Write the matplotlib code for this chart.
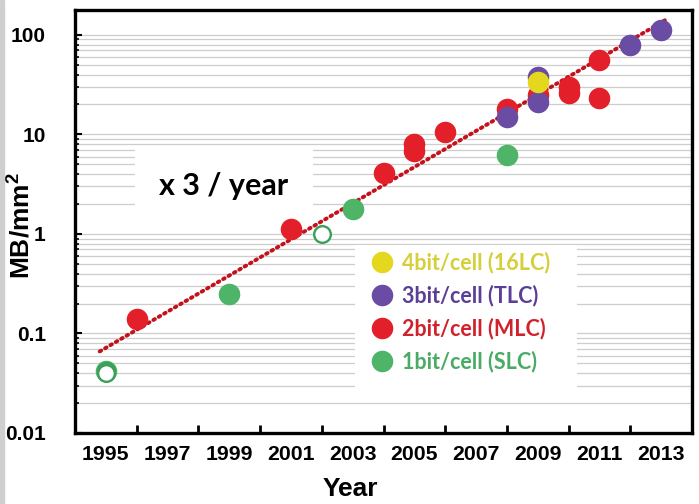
import matplotlib
matplotlib.use("Agg")
import matplotlib.pyplot as plt
from matplotlib.lines import Line2D
from matplotlib.patches import Rectangle
from matplotlib.ticker import FixedLocator, LogLocator, NullFormatter

plt.rcParams["mathtext.fontset"] = "custom"
plt.rcParams["mathtext.bf"] = "Liberation Sans:bold"
plt.rcParams["mathtext.rm"] = "Liberation Sans:bold"

# data
slc_years = [1995, 1999, 2003, 2008]
slc_vals = [0.042, 0.25, 1.8, 6.2]
slc_open_years = [1995, 1995, 2002]
slc_open_vals = [0.042, 0.040, 1.0]
mlc_years = [1996, 2001, 2004, 2005, 2005, 2006, 2008, 2009, 2010, 2010, 2011, 2011]
mlc_vals = [0.14, 1.12, 4.1, 8.0, 6.8, 10.5, 18, 25, 30, 26, 56, 23]
tlc_years = [2008, 2009, 2009, 2012, 2013]
tlc_vals = [15, 21, 38, 79, 112]
qlc_years = [2009]
qlc_vals = [34]
trend_years = [1994.8, 2013.2]
trend_vals = [0.066, 145]

labels = ["4bit/cell (16LC)", "3bit/cell (TLC)", "2bit/cell (MLC)", "1bit/cell (SLC)"]
colors = ["#e4d81e", "#6a4ca4", "#e3202a", "#4db468"]
text_colors = ["#d6cf3a", "#5b3f97", "#d1222c", "#4aab66"]

tick_years = [1995, 1997, 1999, 2001, 2003, 2005, 2007, 2009, 2011, 2013]
mark_years = [1996, 1998, 2000, 2002, 2004, 2006, 2008, 2010, 2012]

bold = dict(family="Liberation Sans", weight="bold")

fig = plt.figure(figsize=(6.99, 5.04), dpi=100)
fig.patches.append(Rectangle((0, 0), 4 / 699, 1, transform=fig.transFigure,
                             color="#cfcfcf", zorder=0))
ax = fig.add_axes([75 / 699, 71 / 504, 617 / 699, 423 / 504])

ax.set_yscale("log")
ax.set_xlim(1994, 2014)
ax.set_ylim(0.01, 178)

# light grey grid on every minor decade step
ax.yaxis.set_minor_locator(LogLocator(base=10, subs=range(2, 10)))
ax.yaxis.set_minor_formatter(NullFormatter())
ax.grid(True, axis="y", which="both", color="#cdcdcd", lw=0.9)

# white boxes behind the annotation and the legend (above the grid)
ax.add_patch(Rectangle((0.097, 0.527), 0.289, 0.149, transform=ax.transAxes,
                       facecolor="white", edgecolor="none", zorder=1.8))
ax.add_patch(Rectangle((0.454, 0.09), 0.36, 0.355, transform=ax.transAxes,
                       facecolor="white", edgecolor="none", zorder=1.8))

ax.plot(trend_years, trend_vals, color="#c3121c", lw=2.8,
        linestyle=(0, (0.45, 1.15)), dash_capstyle="round", zorder=2)

ms = 14.5
ax.plot(slc_years, slc_vals, "o", ms=ms, color=colors[3], mec=colors[3], zorder=3)
ax.plot(slc_open_years, slc_open_vals, "o", ms=12, mfc="white", mec="#3a9f58",
        mew=1.7, zorder=3)
ax.plot(mlc_years, mlc_vals, "o", ms=ms, color=colors[2], zorder=4)
ax.plot(tlc_years, tlc_vals, "o", ms=ms, color=colors[1], zorder=5)
ax.plot(qlc_years, qlc_vals, "o", ms=ms, color=colors[0], zorder=6)

ax.text(0.241, 0.584, "x 3 / year", transform=ax.transAxes, ha="center", va="center",
        fontsize=22, family="Lato", weight="bold", zorder=3)

handles = [Line2D([], [], ls="none", marker="o", ms=ms, color=c) for c in colors]
leg = ax.legend(handles, labels, loc="upper left", bbox_to_anchor=(0.48, 0.428),
                frameon=False, borderpad=0, borderaxespad=0, handlelength=1.0,
                handletextpad=0.44, labelspacing=0.52, labelcolor=text_colors,
                prop=dict(family="Lato", weight="bold", size=15.5))
leg.set_zorder(7)

# ticks: marks on even years, labels on odd years
ax.xaxis.set_major_locator(FixedLocator(mark_years))
ax.xaxis.set_major_formatter(NullFormatter())
ax.xaxis.set_minor_locator(FixedLocator(tick_years))
ax.set_xticklabels([str(y) for y in tick_years], minor=True)
ax.tick_params(axis="x", which="major", direction="in", length=6, width=2)
ax.tick_params(axis="x", which="minor", length=0, pad=9)
ax.tick_params(axis="y", which="major", direction="in", length=5, width=1.5, pad=21)
ax.tick_params(axis="y", which="minor", direction="in", length=3, width=1.2)
ax.set_yticks([0.01, 0.1, 1, 10, 100])
ax.set_yticklabels(["0.01", "0.1", "1", "10", "100"])
for t in ax.get_xticklabels(minor=True):
    t.set_fontproperties(dict(bold, size=15.3))
for t in ax.get_yticklabels():
    t.set_fontproperties(dict(bold, size=15))
for s in ax.spines.values():
    s.set_linewidth(2.4)
    s.set_zorder(8)

ax.set_xlabel("Year", fontsize=19, labelpad=9, x=0.446, **bold)
ax.set_ylabel(r"MB/mm$^{\mathbf{2}}$", fontsize=19, **bold)
ax.yaxis.set_label_coords(-0.066, 0.49)

fig.savefig("out.png", dpi=100)
